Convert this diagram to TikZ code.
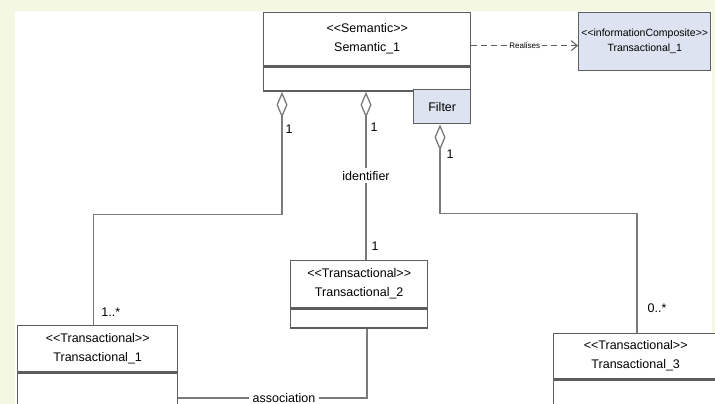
\documentclass[tikz,border=0pt]{standalone}
\usepackage{fontspec}
\setmainfont{Liberation Sans}
\usetikzlibrary{arrows.meta,positioning}
\definecolor{linegrey}{HTML}{7A7A7A}
\definecolor{boxgrey}{HTML}{5E5E5E}
\definecolor{notefill}{HTML}{DDE3F0}
\definecolor{pagebg}{HTML}{F4F8E2}
\tikzstyle{classhead}=[rectangle,draw=boxgrey,line width=1.4pt,fill=white,inner sep=0pt,align=center,anchor=north west,font=\fontsize{12.5}{19}\selectfont]
\tikzstyle{classbody}=[rectangle,draw=boxgrey,line width=1.4pt,fill=white,inner sep=0pt,anchor=north]
\tikzstyle{bluebox}=[rectangle,draw=boxgrey,line width=1.4pt,fill=notefill,inner sep=0pt,align=center,anchor=north west]
\tikzstyle{link}=[draw=linegrey,line width=1.3pt]
\tikzstyle{aggr}=[link,{Diamond[open,length=26pt,width=11pt]}-]
\tikzstyle{mult}=[inner sep=0pt,font=\fontsize{12.5}{15}\selectfont]

\begin{document}
\begin{tikzpicture}[x=1pt,y=-1pt]
    % page and white sheet
    \useasboundingbox (0,0) rectangle (715,404);
    \fill[pagebg] (0,0) rectangle (715,404);
    \fill[white] (15,11) rectangle (712,404);

    % the classes
    \node[classhead, minimum width=207pt, minimum height=53pt] (semh) at (263,12) {{<}{<}Semantic{>}{>}\\Semantic\_1};
    \node[classbody, minimum width=207pt, minimum height=24pt, below=0pt of semh] (semb) {};
    \node[bluebox, minimum width=132pt, minimum height=58pt, font=\fontsize{10.5}{15}\selectfont] (infoh) at (578,12) {{<}{<}informationComposite{>}{>}\\Transactional\_1};
    \node[bluebox, minimum width=57pt, minimum height=34pt, font=\fontsize{12.5}{15}\selectfont] (filter) at (413,89) {Filter};

    \foreach \pos/\name/\cw/\hh/\lh/\num in {{(17,325)/t1/160/46/32/1}, {(290,260)/t2/137/47/19/2}, {(553,333)/t3/164/45/32/3}}
    {
        \node[classhead, minimum width=\cw pt, minimum height=\hh pt] (\name h) at \pos {{<}{<}Transactional{>}{>}\\Transactional\_\num};
        \node[classbody, minimum width=\cw pt, minimum height=\lh pt, below=0pt of \name h] (\name b) {};
    }

    % realisation
    \path[draw=boxgrey, line width=1pt, dash pattern=on 6pt off 4pt, -{Straight Barb[length=6pt,width=10pt]}] ([yshift=-6.5pt]semh.east) -- node[fill=white, inner sep=2pt, font=\fontsize{8}{10}\selectfont] {Realises} ([yshift=-4pt]infoh.west);

    % aggregations
    \path[aggr] ([xshift=19pt]semb.south west) -- node[mult, right=3pt, pos=0.3] {1} ++(0,123) -| node[mult, anchor=west, pos=1, xshift=7pt, yshift=13pt] {1..*} ([xshift=-4pt]t1h.north);
    \path[aggr] ([xshift=103pt]semb.south west) -- node[mult, right=4pt, pos=0.21] {1} node[mult, fill=white, inner sep=3pt, pos=0.5] {identifier} node[mult, right=5pt, pos=0.92] {1} ([xshift=76pt]t2h.north west);
    \path[aggr] ([xshift=27pt]filter.south west) -- node[mult, right=6pt, pos=0.34] {1} ++(0,89) -| node[mult, anchor=west, pos=1, xshift=10pt, yshift=25pt] {0..*} ([xshift=84pt]t3h.north west);

    % association
    \path[link] ([yshift=-9pt]t1b.east) -| node[mult, fill=white, inner sep=4pt, pos=0.28] {association} ([xshift=77pt]t2b.south west);

\end{tikzpicture}
\end{document}
